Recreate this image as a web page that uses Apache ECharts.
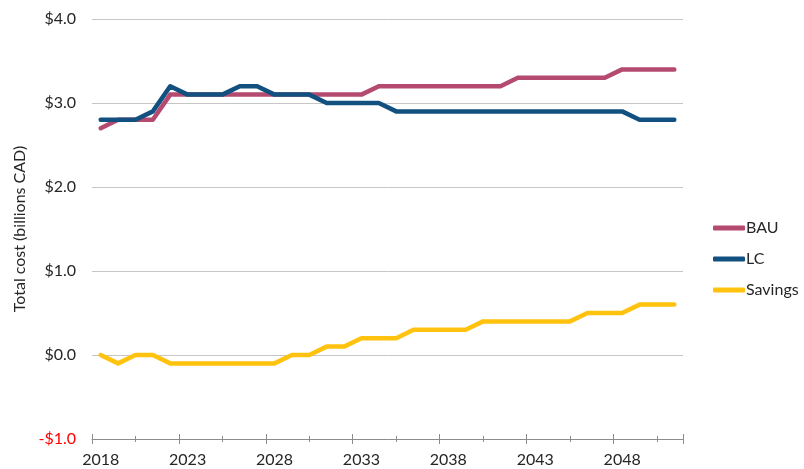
<!DOCTYPE html>
<html>
<head>
<meta charset="utf-8">
<script src="https://cdn.jsdelivr.net/npm/echarts@6/dist/echarts.min.js"></script>
<style>
  html, body { margin: 0; padding: 0; background: #fff; }
  #chart { width: 804px; height: 469px; }
</style>
</head>
<body>
<div id="chart"></div>
<script>
// years on the x axis
const years = [];
for (let y = 2018; y <= 2051; y++) years.push(String(y));

const bau = [2.7, 2.8, 2.8, 2.8, 3.1, 3.1, 3.1, 3.1, 3.1, 3.1, 3.1, 3.1, 3.1, 3.1, 3.1, 3.1,
  3.2, 3.2, 3.2, 3.2, 3.2, 3.2, 3.2, 3.2, 3.3, 3.3, 3.3, 3.3, 3.3, 3.3, 3.4, 3.4, 3.4, 3.4];
const lc = [2.8, 2.8, 2.8, 2.9, 3.2, 3.1, 3.1, 3.1, 3.2, 3.2, 3.1, 3.1, 3.1, 3.0, 3.0, 3.0,
  3.0, 2.9, 2.9, 2.9, 2.9, 2.9, 2.9, 2.9, 2.9, 2.9, 2.9, 2.9, 2.9, 2.9, 2.9, 2.8, 2.8, 2.8];
const savings = [0, -0.1, 0, 0, -0.1, -0.1, -0.1, -0.1, -0.1, -0.1, -0.1, 0, 0, 0.1, 0.1, 0.2,
  0.2, 0.2, 0.3, 0.3, 0.3, 0.3, 0.4, 0.4, 0.4, 0.4, 0.4, 0.4, 0.5, 0.5, 0.5, 0.6, 0.6, 0.6];

const FONT = 'Lato';
const chart = echarts.init(document.getElementById('chart'));

// helper for the stacked x axes (labels + crossing major/minor ticks)
function xAxis(opts) {
  return Object.assign({
    type: 'category',
    data: years,
    position: 'bottom',
    boundaryGap: true,
    axisLine: { show: false, onZero: false },
    axisLabel: { show: false },
    axisTick: { show: false },
    splitLine: { show: false }
  }, opts);
}

const tickColor = '#8c8c8c';

chart.setOption({
  animation: false,
  textStyle: { fontFamily: FONT },
  grid: { left: 92, right: 121, top: 19, bottom: 30 },
  legend: {
    orient: 'vertical',
    left: 708,
    top: 215,
    itemWidth: 32,
    itemHeight: 5,
    itemGap: 15,
    icon: 'roundRect',
    textStyle: { fontFamily: FONT, fontSize: 16, color: '#262626', padding: [0, 0, 0, -4] },
    data: ['BAU', 'LC', 'Savings']
  },
  xAxis: [
    xAxis({
      axisLine: { show: true, onZero: false, lineStyle: { color: tickColor, width: 1 } },
      axisLabel: {
        show: true, interval: 4, margin: 13,
        fontFamily: FONT, fontSize: 16, color: '#262626'
      },
      axisTick: {
        show: true, length: 5, interval: function (i) { return i % 5 === 0; },
        lineStyle: { color: tickColor }
      }
    }),
    xAxis({
      axisTick: {
        show: true, inside: true, length: 5, interval: function (i) { return i % 5 === 0; },
        lineStyle: { color: tickColor }
      }
    }),
    xAxis({
      axisTick: {
        show: true, length: 3, alignWithLabel: true, interval: function (i) { return i % 5 === 2; },
        lineStyle: { color: tickColor }
      }
    }),
    xAxis({
      axisTick: {
        show: true, inside: true, length: 3, alignWithLabel: true, interval: function (i) { return i % 5 === 2; },
        lineStyle: { color: tickColor }
      }
    })
  ],
  yAxis: {
    type: 'value',
    min: -1,
    max: 4,
    interval: 1,
    name: 'Total cost (billions CAD)',
    nameLocation: 'middle',
    nameGap: 62,
    nameTextStyle: { fontFamily: FONT, fontSize: 16, color: '#262626' },
    axisLine: { show: false },
    axisTick: { show: false },
    axisLabel: {
      margin: 16,
      fontFamily: FONT, fontSize: 16,
      color: function (v) { return v < 0 ? '#ff0000' : '#262626'; },
      formatter: function (v) {
        return (v < 0 ? '-$' : '$') + Math.abs(v).toFixed(1);
      }
    },
    splitLine: { lineStyle: { color: '#c6c6c6', width: 1 } }
  },
  series: [
    {
      name: 'BAU', type: 'line', data: bau, showSymbol: false, symbol: 'none',
      color: '#b54a70',
      lineStyle: { width: 4.5, cap: 'round', join: 'round' }
    },
    {
      name: 'LC', type: 'line', data: lc, showSymbol: false, symbol: 'none',
      color: '#11507f',
      lineStyle: { width: 4.5, cap: 'round', join: 'round' }
    },
    {
      name: 'Savings', type: 'line', data: savings, showSymbol: false, symbol: 'none',
      color: '#ffc20e',
      lineStyle: { width: 4.5, cap: 'round', join: 'round' }
    }
  ]
});
</script>
</body>
</html>
